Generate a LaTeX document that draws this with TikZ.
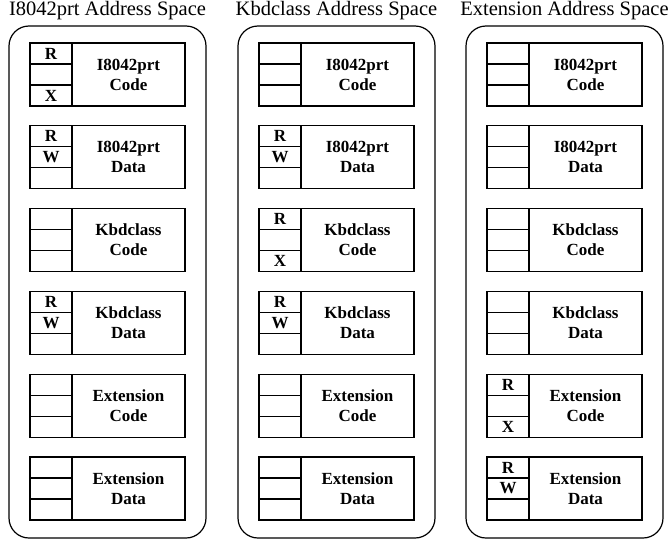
\documentclass[tikz,border=0pt]{standalone}
\usepackage{fontspec}
\setmainfont{Liberation Serif}
\usetikzlibrary{positioning}
\tikzset{
  heading/.style={font=\fontsize{20.5}{24}\selectfont, inner sep=0pt},
  space/.style={draw, line width=1.2pt, rounded corners=20pt, minimum width=197pt, minimum height=512pt, anchor=north west, outer sep=0pt},
  region/.style={draw, line width=1.2pt, minimum width=113pt, minimum height=63pt, align=center, anchor=north west, outer sep=0pt, inner sep=0pt, font=\fontsize{17}{20}\selectfont\bfseries},
  cell/.style={draw, line width=1.2pt, minimum width=42pt, minimum height=21pt, inner sep=0pt, outer sep=0pt, font=\fontsize{17}{20}\selectfont\bfseries}
}
% one address space: name, left x, title, rows (module/kind/top/mid/bottom)
\newcommand{\memspace}[4]{%
  \node[heading] (#1-title) at (#2+98.5,11) {#3};
  \node[space] (#1) at (#2,26) {};
  \foreach \mod/\kind/\ta/\tb/\tc [count=\r from 0] in {#4} {
    \node[region] (#1-\r) at (#2+63,43+82.8*\r) {\mod\\\kind};
    \node[cell, anchor=north east] (#1-\r-a) at (#1-\r.north west) {\ta};
    \node[cell, below=0pt of #1-\r-a] (#1-\r-b) {\tb};
    \node[cell, below=0pt of #1-\r-b] (#1-\r-c) {\tc};
  }
}

\begin{document}
\begin{tikzpicture}[x=1pt, y=-1pt]
  \useasboundingbox (0,0) rectangle (670,541);
  % I8042prt
  \memspace{drv}{9}{I8042prt Address Space}{
    I8042prt/Code/R/{}/X, I8042prt/Data/R/W/{},
    Kbdclass/Code/{}/{}/{}, Kbdclass/Data/R/W/{},
    Extension/Code/{}/{}/{}, Extension/Data/{}/{}/{}}
  % Kbdclass
  \memspace{cls}{238}{Kbdclass Address Space}{
    I8042prt/Code/{}/{}/{}, I8042prt/Data/R/W/{},
    Kbdclass/Code/R/{}/X, Kbdclass/Data/R/W/{},
    Extension/Code/{}/{}/{}, Extension/Data/{}/{}/{}}
  % Extension
  \memspace{ext}{466}{Extension Address Space}{
    I8042prt/Code/{}/{}/{}, I8042prt/Data/{}/{}/{},
    Kbdclass/Code/{}/{}/{}, Kbdclass/Data/{}/{}/{},
    Extension/Code/R/{}/X, Extension/Data/R/W/{}}
\end{tikzpicture}
\end{document}
